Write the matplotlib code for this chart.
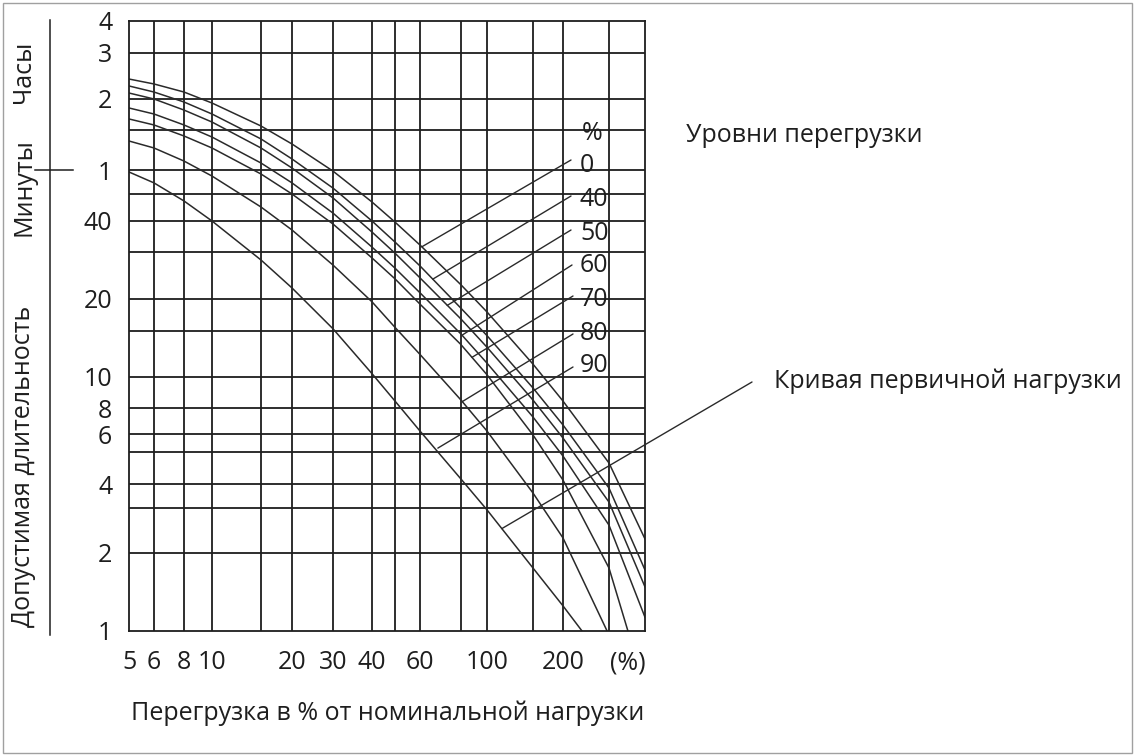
import numpy as np
import matplotlib.pyplot as plt
from matplotlib.lines import Line2D
from matplotlib.patches import Rectangle
from matplotlib.ticker import NullLocator

plt.rcParams['font.family'] = ['Open Sans', 'DejaVu Sans']

# overload, % of rated load (x) and permissible duration in minutes (y)
load_pct = [5, 6, 8, 10, 15, 20, 30, 40, 50, 60, 80, 100, 150, 200, 300, 400]
time_0 = [143.1, 137.0, 127.6, 115.6, 93.4, 78.1, 59.5, 46.8, 39.6, 32.0, 22.6, 17.8, 11.2, 8.41, 4.63, 2.27]
time_40 = [134.6, 127.6, 116.7, 104.4, 82.2, 67.1, 52.3, 40.0, 32.9, 26.6, 18.4, 14.4, 9.24, 6.63, 3.81, 1.72]
time_50 = [126.5, 120.0, 108.3, 96.9, 75.0, 61.2, 48.4, 36.1, 29.7, 24.0, 16.7, 13.0, 8.47, 5.76, 3.22, 1.48]
time_60 = [110.4, 104.4, 94.3, 83.8, 64.4, 54.4, 42.7, 31.4, 26.1, 21.1, 14.6, 11.3, 7.24, 4.86, 2.57, 1.13]

load_70 = [5, 6, 8, 10, 15, 20, 30, 40, 50, 60, 80, 100, 150, 200, 300, 349]
time_70 = [99.7, 94.3, 84.7, 75.0, 58.2, 50.0, 38.9, 28.5, 23.8, 19.1, 13.3, 10.2, 5.94, 4.11, 1.75, 1.0]

load_80 = [5, 6, 8, 10, 15, 20, 30, 40, 50, 60, 80, 100, 150, 200, 295]
time_80 = [80.5, 75.0, 65.7, 57.3, 44.9, 36.8, 26.8, 19.5, 15.5, 12.2, 8.47, 6.20, 3.59, 2.29, 1.0]

load_90 = [5, 6, 8, 10, 15, 20, 30, 40, 50, 60, 80, 100, 150, 200, 236.5]
time_90 = [59.1, 54.4, 47.2, 40.0, 28.0, 22.0, 15.3, 10.3, 8.41, 6.20, 4.14, 2.95, 1.75, 1.25, 1.0]

level_labels = ['0', '40', '50', '60', '70', '80', '90']

x_grid = [5, 6, 8, 10, 15, 20, 30, 40, 50, 60, 80, 100, 150, 200, 300, 400]
y_grid = [1, 2, 3, 4, 5, 6, 8, 10, 15, 20, 30, 40, 50, 60, 90, 120, 180, 240]
x_ticks = [5, 6, 8, 10, 20, 30, 40, 60, 100, 200, 350]
x_tick_labels = ['5', '6', '8', '10', '20', '30', '40', '60', '100', '200', '(%)']
y_ticks = [1, 2, 4, 6, 8, 10, 20, 40, 60, 120, 180, 240]
y_tick_labels = ['1', '2', '4', '6', '8', '10', '20', '40', '1', '2', '3', '4']

# the printed grid is only roughly logarithmic: relative spacing of its lines
x_grid_spacing = [0, 25, 55, 83, 132, 163, 204, 243, 266, 291, 332, 358, 404, 434, 480, 516]
y_grid_spacing = [0, 78, 123, 147, 179, 197, 223, 254, 300, 332, 379, 410, 437, 461, 501, 532, 578, 610]


def make_scale(vals, spacing):
    lv = np.log(vals)
    sp = np.asarray(spacing, float)

    def fwd(v):
        v = np.log(np.clip(np.asarray(v, float), 1e-3, None))
        out = np.interp(v, lv, sp)
        out = np.where(v < lv[0], sp[0] + (v - lv[0]) * (sp[1] - sp[0]) / (lv[1] - lv[0]), out)
        out = np.where(v > lv[-1], sp[-1] + (v - lv[-1]) * (sp[-1] - sp[-2]) / (lv[-1] - lv[-2]), out)
        return out

    def inv(p):
        p = np.asarray(p, float)
        out = np.interp(p, sp, lv)
        out = np.where(p < sp[0], lv[0] + (p - sp[0]) * (lv[1] - lv[0]) / (sp[1] - sp[0]), out)
        out = np.where(p > sp[-1], lv[-1] + (p - sp[-1]) * (lv[-1] - lv[-2]) / (sp[-1] - sp[-2]), out)
        return np.exp(out)

    return fwd, inv


W, H = 1135, 756
ink = '#1e1e1e'
fs = 18

fig = plt.figure(figsize=(W / 100, H / 100), dpi=100)
ax = fig.add_axes([129 / W, 1 - 631 / H, 516 / W, 610 / H])
ax.set_xscale('function', functions=make_scale(x_grid, x_grid_spacing))
ax.set_yscale('function', functions=make_scale(y_grid, y_grid_spacing))
ax.set_xlim(5, 400)
ax.set_ylim(1, 240)

for g in x_grid[1:-1]:
    ax.axvline(g, color=ink, lw=1.3, zorder=1)
for g in y_grid[1:-1]:
    ax.axhline(g, color=ink, lw=1.3, zorder=1)
for s in ax.spines.values():
    s.set_color(ink)
    s.set_linewidth(1.3)

curves = [(load_pct, time_0), (load_pct, time_40), (load_pct, time_50), (load_pct, time_60),
          (load_70, time_70), (load_80, time_80), (load_90, time_90)]
for xs, ys in curves:
    ax.plot(xs, ys, color='#2a2a2a', lw=1.1, zorder=2)

ax.set_xticks(x_ticks, x_tick_labels)
ax.set_yticks(y_ticks, y_tick_labels)
ax.xaxis.set_minor_locator(NullLocator())
ax.yaxis.set_minor_locator(NullLocator())
ax.tick_params(length=0, labelsize=fs, colors=ink)
ax.tick_params(axis='x', pad=14)
ax.tick_params(axis='y', pad=12)


def on_curve(idx, x):
    xs, ys = curves[idx]
    return np.exp(np.interp(np.log(x), np.log(xs), np.log(ys)))


# leader lines: label start (figure px from top-left) -> point on curve
leaders = [
    (0, 60.8, 571, 160),
    (1, 65.6, 571, 196),
    (2, 72.6, 571, 230),
    (3, 80.7, 572, 265),
    (4, 87.9, 573, 296),
    (5, 80.7, 573, 334),
    (6, 68.0, 573, 367),
    (6, 114, 752, 382),
]
for idx, xv, px, py in leaders:
    ax.annotate('', xy=(xv, on_curve(idx, xv)), xycoords='data',
                xytext=(px, H - py), textcoords='figure pixels',
                arrowprops=dict(arrowstyle='-', color='#2a2a2a', lw=1.0,
                                shrinkA=0, shrinkB=0),
                annotation_clip=False)

fig.text(582 / W, 1 - 133 / H, '%', fontsize=fs, color=ink, va='center', ha='left')
label_y = [166, 199, 233, 266, 300, 333, 365]
for lab, ly in zip(level_labels, label_y):
    fig.text(580 / W, 1 - ly / H, lab, fontsize=fs, color=ink, va='center', ha='left')

fig.text(686 / W, 1 - 135 / H, 'Уровни перегрузки', fontsize=fs, color=ink, va='center', ha='left')
fig.text(774 / W, 1 - 381 / H, 'Кривая первичной нагрузки', fontsize=fs, color=ink, va='center', ha='left')
fig.text(388 / W, 1 - 713 / H, 'Перегрузка в % от номинальной нагрузки', fontsize=fs, color=ink,
         va='center', ha='center')

fig.text(24 / W, 1 - 72 / H, 'Часы', fontsize=fs, color=ink, rotation=90, va='center', ha='center')
fig.text(24 / W, 1 - 187 / H, 'Минуты', fontsize=fs, color=ink, rotation=90, va='center', ha='center')
fig.text(24 / W, 1 - 466 / H, 'Допустимая длительность', fontsize=fs, color=ink, rotation=90,
         va='center', ha='center')

fig.add_artist(Line2D([50 / W, 50 / W], [1 - 20 / H, 1 - 635 / H], color=ink, lw=1.1))
fig.add_artist(Line2D([35 / W, 73 / W], [1 - 170 / H, 1 - 170 / H], color=ink, lw=1.1))
fig.add_artist(Rectangle((3 / W, 3 / H), 1129 / W, 750 / H, fill=False, ec='#a0a0a0', lw=1.0))

fig.savefig('out.png', dpi=100)
